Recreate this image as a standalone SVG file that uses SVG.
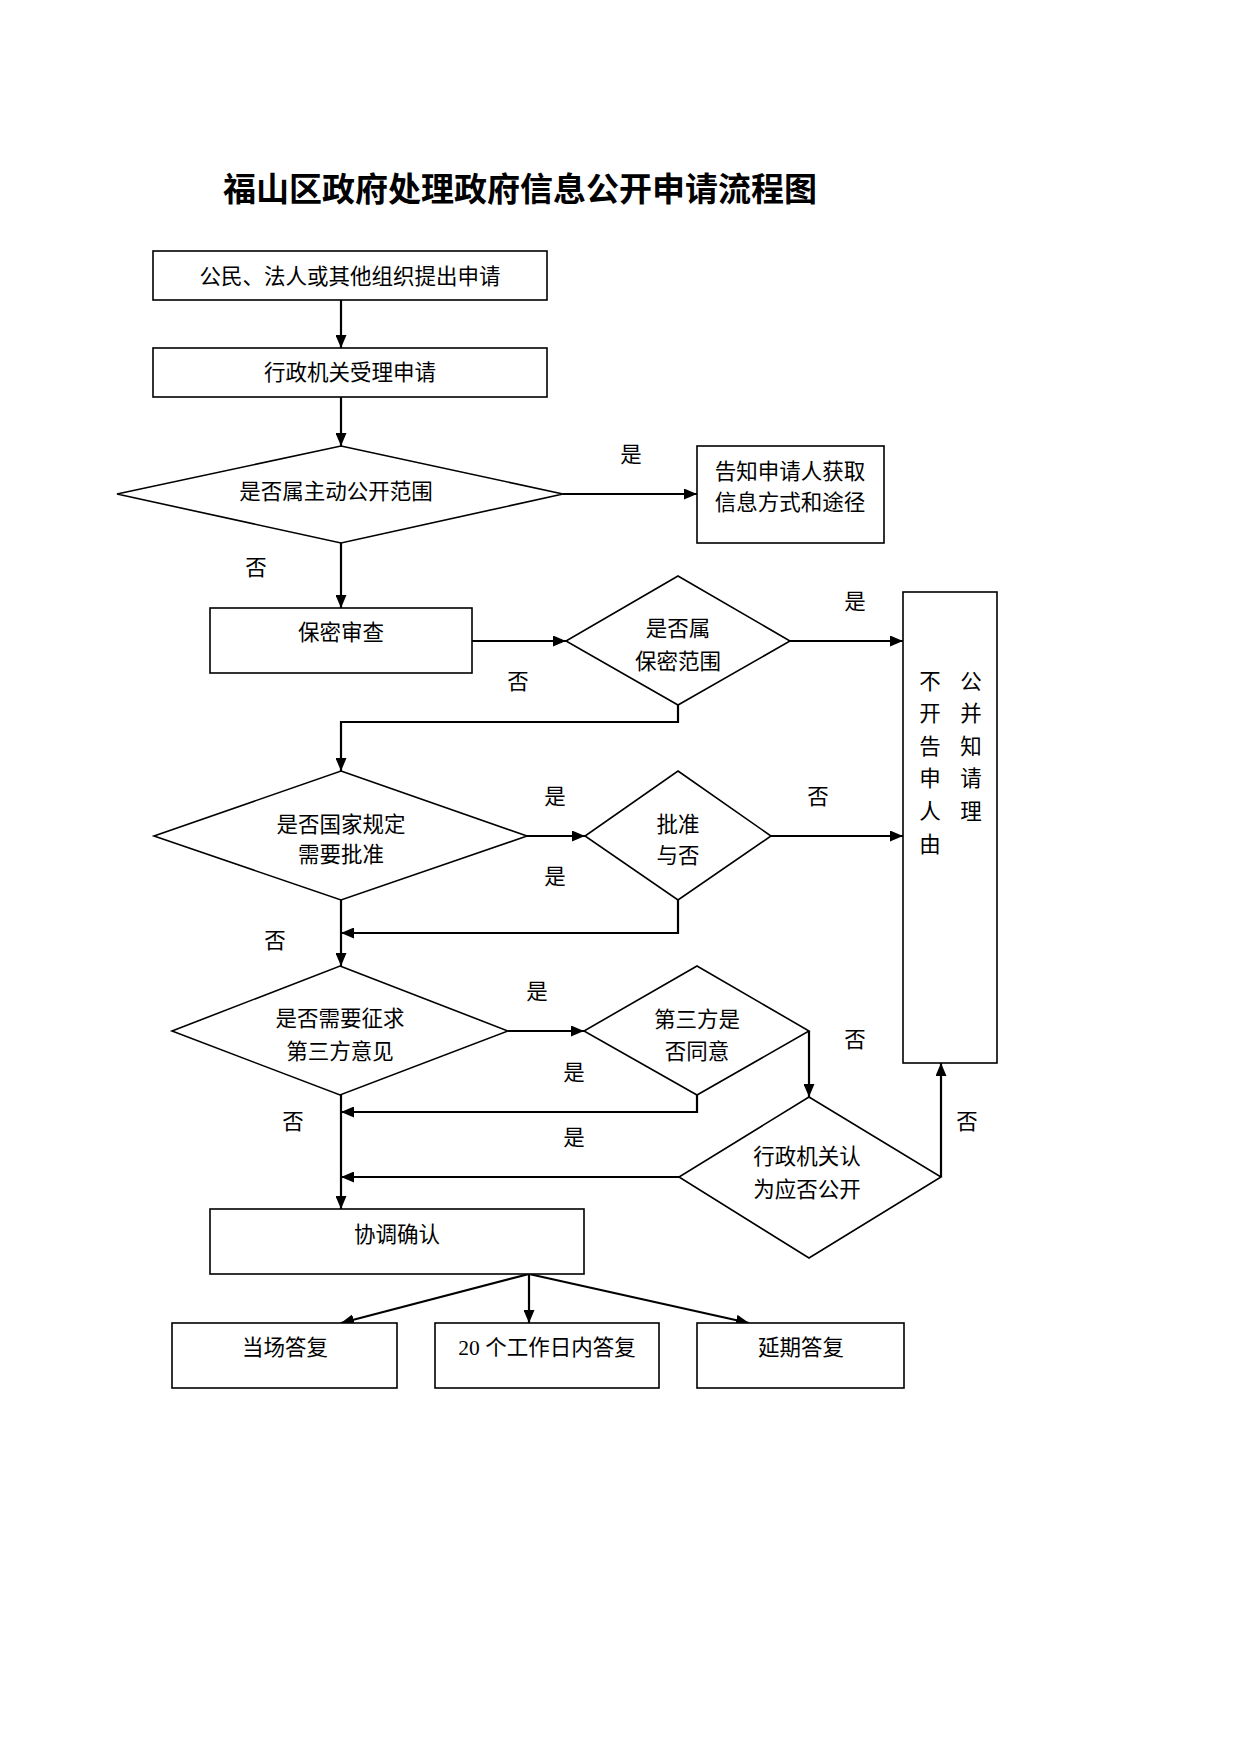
<svg xmlns="http://www.w3.org/2000/svg" width="1240" height="1754" viewBox="0 0 1240 1754">
<style>
  .box { fill: #fff; stroke: #000; stroke-width: 1.6; }
  .dia { fill: #fff; stroke: #000; stroke-width: 1.6; }
  .t { font-family: "Liberation Serif", "Noto Sans CJK SC", serif; font-size: 21.5px; fill: #000; text-anchor: middle; dominant-baseline: central; }
  .title { font-family: "Noto Sans CJK SC", sans-serif; font-size: 33px; font-weight: 600; fill: #000; text-anchor: middle; dominant-baseline: central; }
  .c { fill: none; stroke: #000; stroke-width: 2.2; }
  .ca { fill: none; stroke: #000; stroke-width: 2.2; marker-end: url(#arr); }
</style>
<defs>
  <marker id="arr" viewBox="0 0 13 11" refX="13" refY="5.5" markerWidth="13" markerHeight="11" markerUnits="userSpaceOnUse" orient="auto">
    <path d="M0,0 L13,5.5 L0,11 z" fill="#000"/>
  </marker>
</defs>
<rect width="1240" height="1754" fill="#fff"/>
<text class="title" x="520" y="187">福山区政府处理政府信息公开申请流程图</text>

<g id="connectors">
  <path class="ca" d="M341,300 L341,348"/>
  <path class="ca" d="M341,397 L341,446"/>
  <path class="ca" d="M563,494 L697,494"/>
  <path class="ca" d="M341,543 L341,608"/>
  <path class="ca" d="M472,641 L566,641"/>
  <path class="ca" d="M678,705 L678,722 L341,722 L341,771"/>
  <path class="ca" d="M790,641 L903,641"/>
  <path class="ca" d="M527,836 L585,836"/>
  <path class="ca" d="M771,836 L903,836"/>
  <path class="ca" d="M678,900 L678,933 L341,933"/>
  <path class="ca" d="M341,900 L341,966"/>
  <path class="ca" d="M508,1031 L584,1031"/>
  <path class="ca" d="M697,1095 L697,1112 L341,1112"/>
  <path class="ca" d="M809,1031 L809,1097"/>
  <path class="ca" d="M679,1177 L341,1177"/>
  <path class="ca" d="M941,1177 L941,1063"/>
  <path class="ca" d="M341,1095 L341,1209"/>
  <path class="ca" d="M529,1274 L341,1323"/>
  <path class="ca" d="M529,1274 L529,1323"/>
  <path class="ca" d="M529,1274 L749,1323"/>
</g>

<g id="labels">
  <text class="t" x="631" y="455">是</text>
  <text class="t" x="256" y="568">否</text>
  <text class="t" x="518" y="682">否</text>
  <text class="t" x="855" y="602">是</text>
  <text class="t" x="555" y="797">是</text>
  <text class="t" x="555" y="877">是</text>
  <text class="t" x="818" y="797">否</text>
  <text class="t" x="275" y="941">否</text>
  <text class="t" x="537" y="992">是</text>
  <text class="t" x="574" y="1073">是</text>
  <text class="t" x="855" y="1040">否</text>
  <text class="t" x="293" y="1122">否</text>
  <text class="t" x="574" y="1138">是</text>
  <text class="t" x="967" y="1122">否</text>
</g>

<g id="n1">
  <rect class="box" x="153" y="251" width="394" height="49"/>
  <text class="t" x="350" y="277">公民、法人或其他组织提出申请</text>
</g>
<g id="n2">
  <rect class="box" x="153" y="348" width="394" height="49"/>
  <text class="t" x="350" y="373">行政机关受理申请</text>
</g>
<g id="d1">
  <polygon class="dia" points="341,446 563,494 341,543 117,494"/>
  <text class="t" x="336" y="492">是否属主动公开范围</text>
</g>
<g id="n3">
  <rect class="box" x="697" y="446" width="187" height="97"/>
  <text class="t" x="790" y="472">告知申请人获取</text>
  <text class="t" x="790" y="503">信息方式和途径</text>
</g>
<g id="n4">
  <rect class="box" x="210" y="608" width="262" height="65"/>
  <text class="t" x="341" y="633">保密审查</text>
</g>
<g id="d2">
  <polygon class="dia" points="678,576 790,641 678,705 566,641"/>
  <text class="t" x="678" y="629">是否属</text>
  <text class="t" x="678" y="662">保密范围</text>
</g>
<g id="n5">
  <rect class="box" x="903" y="592" width="94" height="471"/>
  <text class="t" x="930" y="682">不</text>
  <text class="t" x="930" y="714">开</text>
  <text class="t" x="930" y="747">告</text>
  <text class="t" x="930" y="779">申</text>
  <text class="t" x="930" y="812">人</text>
  <text class="t" x="930" y="845">由</text>
  <text class="t" x="971" y="682">公</text>
  <text class="t" x="971" y="714">并</text>
  <text class="t" x="971" y="747">知</text>
  <text class="t" x="971" y="779">请</text>
  <text class="t" x="971" y="812">理</text>
</g>
<g id="d3">
  <polygon class="dia" points="341,771 527,836 341,900 154,836"/>
  <text class="t" x="341" y="825">是否国家规定</text>
  <text class="t" x="341" y="855">需要批准</text>
</g>
<g id="d4">
  <polygon class="dia" points="678,771 771,836 678,900 585,836"/>
  <text class="t" x="678" y="825">批准</text>
  <text class="t" x="678" y="856">与否</text>
</g>
<g id="d6">
  <polygon class="dia" points="340,966 508,1031 340,1095 172,1031"/>
  <text class="t" x="340" y="1019">是否需要征求</text>
  <text class="t" x="340" y="1052">第三方意见</text>
</g>
<g id="d5">
  <polygon class="dia" points="697,966 809,1031 697,1095 584,1031"/>
  <text class="t" x="697" y="1020">第三方是</text>
  <text class="t" x="697" y="1052">否同意</text>
</g>
<g id="d7">
  <polygon class="dia" points="809,1097 941,1177 809,1258 679,1177"/>
  <text class="t" x="807" y="1157">行政机关认</text>
  <text class="t" x="807" y="1190">为应否公开</text>
</g>
<g id="n6">
  <rect class="box" x="210" y="1209" width="374" height="65"/>
  <text class="t" x="397" y="1235">协调确认</text>
</g>
<g id="n7">
  <rect class="box" x="172" y="1323" width="225" height="65"/>
  <text class="t" x="285" y="1348">当场答复</text>
</g>
<g id="n8">
  <rect class="box" x="435" y="1323" width="224" height="65"/>
  <text class="t" x="547" y="1348">20 个工作日内答复</text>
</g>
<g id="n9">
  <rect class="box" x="697" y="1323" width="207" height="65"/>
  <text class="t" x="801" y="1348">延期答复</text>
</g>
</svg>
